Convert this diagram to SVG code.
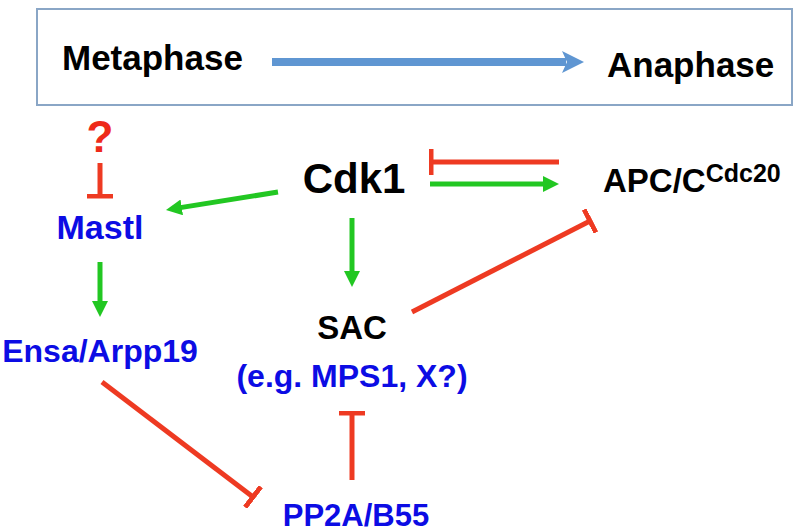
<svg xmlns="http://www.w3.org/2000/svg" width="800" height="532" viewBox="0 0 800 532">
<style>
text{font-family:"Liberation Sans",Arial,sans-serif;font-weight:bold;}
.blk{fill:#000}
.blu{fill:#0c0ce4}
.act{stroke:#22c722;stroke-width:5;fill:none}
.inh{stroke:#ee3a22;stroke-width:5;fill:none}
</style>
<defs>
<marker id="ga" viewBox="0 0 16 16" refX="3" refY="8" markerWidth="16" markerHeight="16" markerUnits="userSpaceOnUse" orient="auto">
<path d="M0,0 L16,8 L0,16 z" fill="#22c722"/>
</marker>
<marker id="rb" viewBox="0 0 5 26" refX="2.5" refY="13" markerWidth="5" markerHeight="26" markerUnits="userSpaceOnUse" orient="auto">
<rect x="0" y="0" width="5" height="26" fill="#ee3a22"/>
</marker>
<marker id="ba" viewBox="0 0 22 22" refX="4" refY="11" markerWidth="22" markerHeight="22" markerUnits="userSpaceOnUse" orient="auto">
<path d="M0,0 L22,11 L0,22 L5,11 z" fill="#5f96d2"/>
</marker>
</defs>
<rect width="800" height="532" fill="#fff"/>
<g id="phase-box">
<rect x="37" y="9" width="755" height="96" fill="#fff" stroke="#8aa6c6" stroke-width="2"/>
<text x="62" y="70" font-size="35" class="blk">Metaphase</text>
<text x="607" y="77" font-size="35" class="blk">Anaphase</text>
<line x1="272" y1="62" x2="566" y2="62" stroke="#5f96d2" stroke-width="8" marker-end="url(#ba)"/>
</g>
<g id="connectors">
<line class="act" x1="278" y1="192" x2="178.8" y2="207.9" marker-end="url(#ga)"/>
<line class="act" x1="100" y1="262" x2="100" y2="304" marker-end="url(#ga)"/>
<line class="act" x1="352" y1="218" x2="352" y2="274" marker-end="url(#ga)"/>
<line class="act" x1="430" y1="184" x2="546" y2="184" marker-end="url(#ga)"/>
<line class="inh" x1="559" y1="162" x2="431" y2="162" marker-end="url(#rb)"/>
<line class="inh" x1="412" y1="312" x2="590" y2="221" marker-end="url(#rb)"/>
<line class="inh" x1="102" y1="382" x2="253" y2="497" marker-end="url(#rb)"/>
<line class="inh" x1="352" y1="480" x2="352" y2="413" marker-end="url(#rb)"/>
<line class="inh" x1="100" y1="163" x2="100" y2="196" marker-end="url(#rb)"/>
</g>
<g id="question">
<text x="100" y="152" font-size="44" fill="#ee2a1a" text-anchor="middle">?</text>
</g>
<g id="cdk1">
<text x="354" y="193" font-size="42" class="blk" text-anchor="middle">Cdk1</text>
</g>
<g id="apcc">
<text x="603" y="192" font-size="33" class="blk">APC/C<tspan font-size="25" dy="-10">Cdc20</tspan></text>
</g>
<g id="mastl">
<text x="100" y="239" font-size="34" class="blu" text-anchor="middle">Mastl</text>
</g>
<g id="ensa">
<text x="100" y="362" font-size="32" class="blu" text-anchor="middle">Ensa/Arpp19</text>
</g>
<g id="sac">
<text x="352" y="339" font-size="33" class="blk" text-anchor="middle">SAC</text>
<text x="352" y="387" font-size="32" class="blu" text-anchor="middle">(e.g. MPS1, X?)</text>
</g>
<g id="pp2a">
<text x="356" y="526" font-size="31" class="blu" text-anchor="middle">PP2A/B55</text>
</g>
</svg>
